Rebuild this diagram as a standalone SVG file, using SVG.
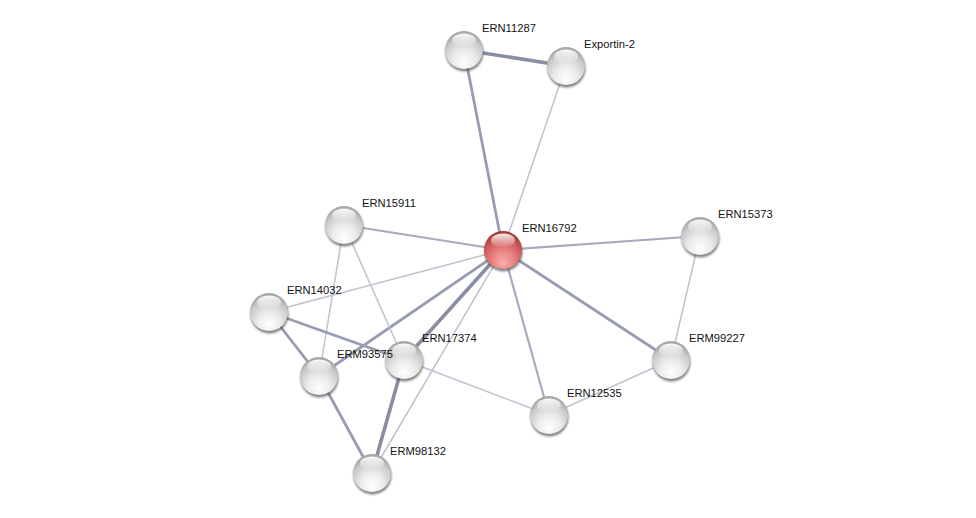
<svg xmlns="http://www.w3.org/2000/svg" width="976" height="518" viewBox="0 0 976 518">
<defs>
<radialGradient id="gw" cx="0.5" cy="0.72" r="0.66" fx="0.5" fy="0.85">
<stop offset="0" stop-color="#ffffff"/>
<stop offset="0.45" stop-color="#ebebeb"/>
<stop offset="0.8" stop-color="#cbcbcb"/>
<stop offset="1" stop-color="#a8a8a8"/>
</radialGradient>
<radialGradient id="gr" cx="0.5" cy="0.72" r="0.66" fx="0.5" fy="0.85">
<stop offset="0" stop-color="#fbb0b0"/>
<stop offset="0.45" stop-color="#e88080"/>
<stop offset="0.8" stop-color="#cc5a5a"/>
<stop offset="1" stop-color="#a83838"/>
</radialGradient>
<linearGradient id="hl" x1="0" y1="0" x2="0" y2="1">
<stop offset="0" stop-color="#ffffff" stop-opacity="0.95"/>
<stop offset="1" stop-color="#ffffff" stop-opacity="0"/>
</linearGradient>
<filter id="blur" x="-30%" y="-30%" width="160%" height="160%">
<feGaussianBlur stdDeviation="0.9"/>
</filter>
</defs>
<style>
.e{stroke-linecap:round;fill:none}
.w1{stroke-width:1.5;stroke:#bfc2cf}
.w2{stroke-width:2.2;stroke:#a7abbd}
.w3{stroke-width:2.8;stroke:#989cb0}
.w4{stroke-width:3.6;stroke:#8a8ea4}
.sh{fill:#404040;opacity:0.65;filter:url(#blur)}
.bw{fill:url(#gw)}
.br{fill:url(#gr)}
.hl{fill:url(#hl)}
text{font-family:"Liberation Sans",Arial,sans-serif;font-size:11.2px;fill:#111}
</style>
<rect width="976" height="518" fill="#ffffff"/>
<g id="connectors">
<line class="e w4" x1="464" y1="50" x2="566" y2="66"/>
<line class="e w3" x1="464" y1="50" x2="503" y2="250"/>
<line class="e w1" x1="566" y1="66" x2="503" y2="250"/>
<line class="e w2" x1="344" y1="225" x2="503" y2="250"/>
<line class="e w2" x1="700" y1="236" x2="503" y2="250"/>
<line class="e w1" x1="700" y1="236" x2="671" y2="360"/>
<line class="e w3" x1="503" y1="250" x2="671" y2="360"/>
<line class="e w2" x1="503" y1="250" x2="549" y2="415"/>
<line class="e w1" x1="503" y1="250" x2="269" y2="312"/>
<line class="e w3" x1="503" y1="250" x2="319" y2="376"/>
<line class="e w4" x1="503" y1="250" x2="404" y2="360"/>
<line class="e w1" x1="503" y1="250" x2="372" y2="473"/>
<line class="e w1" x1="344" y1="225" x2="404" y2="360"/>
<line class="e w1" x1="344" y1="225" x2="319" y2="376"/>
<line class="e w3" x1="269" y1="312" x2="404" y2="360"/>
<line class="e w3" x1="269" y1="312" x2="319" y2="376"/>
<line class="e w3" x1="319" y1="376" x2="372" y2="473"/>
<line class="e w4" x1="404" y1="360" x2="372" y2="473"/>
<line class="e w1" x1="404" y1="360" x2="549" y2="415"/>
<line class="e w1" x1="549" y1="415" x2="671" y2="360"/>
</g>
<g id="ERN11287" transform="translate(464,50)">
<circle class="sh" cx="0.5" cy="2.5" r="19"/><circle class="bw" r="19"/><ellipse class="hl" cx="0" cy="-9.5" rx="12" ry="7"/>
<text x="18" y="-18">ERN11287</text></g>
<g id="Exportin-2" transform="translate(566,66)">
<circle class="sh" cx="0.5" cy="2.5" r="19"/><circle class="bw" r="19"/><ellipse class="hl" cx="0" cy="-9.5" rx="12" ry="7"/>
<text x="18" y="-18">Exportin-2</text></g>
<g id="ERN16792" transform="translate(503,250)">
<circle class="sh" cx="0.5" cy="2.5" r="19"/><circle class="br" r="19"/><ellipse class="hl" cx="0" cy="-9.5" rx="12" ry="7"/>
<text x="19" y="-18">ERN16792</text></g>
<g id="ERN15911" transform="translate(344,225)">
<circle class="sh" cx="0.5" cy="2.5" r="19"/><circle class="bw" r="19"/><ellipse class="hl" cx="0" cy="-9.5" rx="12" ry="7"/>
<text x="18" y="-18">ERN15911</text></g>
<g id="ERN15373" transform="translate(700,236)">
<circle class="sh" cx="0.5" cy="2.5" r="19"/><circle class="bw" r="19"/><ellipse class="hl" cx="0" cy="-9.5" rx="12" ry="7"/>
<text x="18" y="-18">ERN15373</text></g>
<g id="ERN14032" transform="translate(269,312)">
<circle class="sh" cx="0.5" cy="2.5" r="19"/><circle class="bw" r="19"/><ellipse class="hl" cx="0" cy="-9.5" rx="12" ry="7"/>
<text x="18" y="-18">ERN14032</text></g>
<g id="ERN17374" transform="translate(404,360)">
<circle class="sh" cx="0.5" cy="2.5" r="19"/><circle class="bw" r="19"/><ellipse class="hl" cx="0" cy="-9.5" rx="12" ry="7"/>
<text x="18" y="-18">ERN17374</text></g>
<g id="ERM93575" transform="translate(319,376)">
<circle class="sh" cx="0.5" cy="2.5" r="19"/><circle class="bw" r="19"/><ellipse class="hl" cx="0" cy="-9.5" rx="12" ry="7"/>
<text x="18" y="-18">ERM93575</text></g>
<g id="ERM99227" transform="translate(671,360)">
<circle class="sh" cx="0.5" cy="2.5" r="19"/><circle class="bw" r="19"/><ellipse class="hl" cx="0" cy="-9.5" rx="12" ry="7"/>
<text x="18" y="-18">ERM99227</text></g>
<g id="ERN12535" transform="translate(549,415)">
<circle class="sh" cx="0.5" cy="2.5" r="19"/><circle class="bw" r="19"/><ellipse class="hl" cx="0" cy="-9.5" rx="12" ry="7"/>
<text x="18" y="-18">ERN12535</text></g>
<g id="ERM98132" transform="translate(372,473)">
<circle class="sh" cx="0.5" cy="2.5" r="19"/><circle class="bw" r="19"/><ellipse class="hl" cx="0" cy="-9.5" rx="12" ry="7"/>
<text x="18" y="-18">ERM98132</text></g>
</svg>
